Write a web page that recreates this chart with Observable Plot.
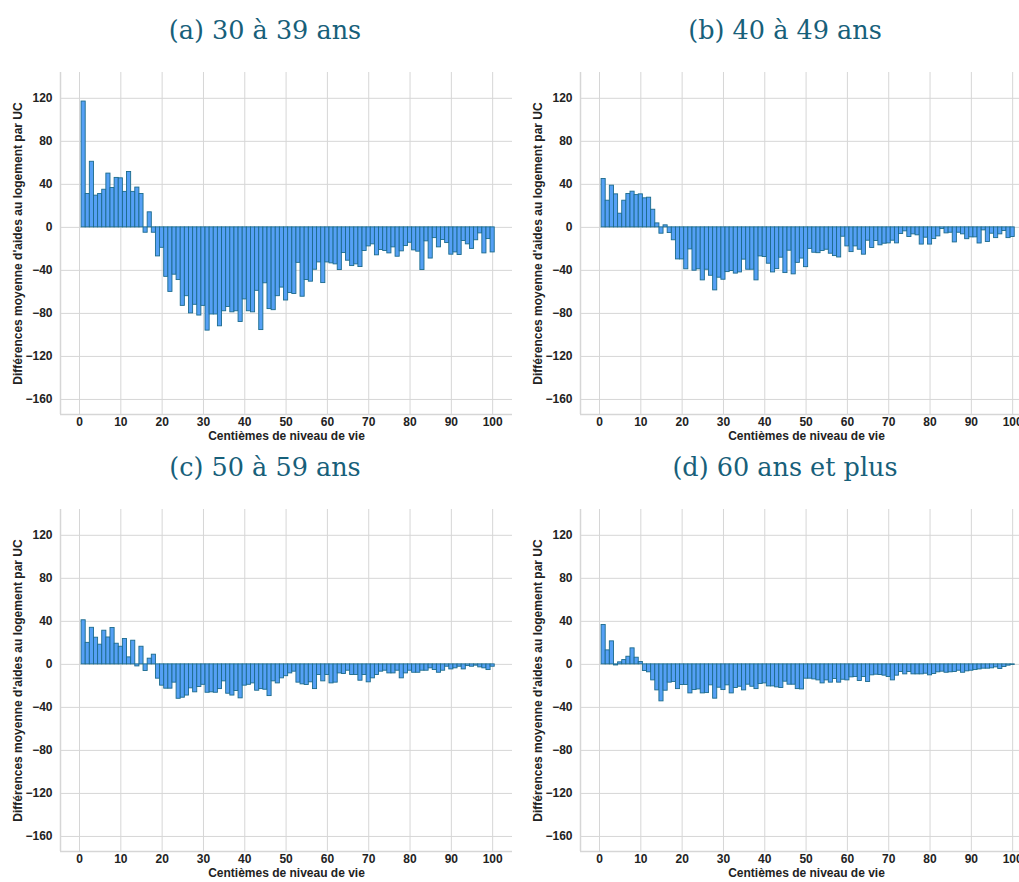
<!DOCTYPE html>
<html><head><meta charset="utf-8">
<script src="https://cdn.jsdelivr.net/npm/d3@7"></script>
<script src="https://cdn.jsdelivr.net/npm/@observablehq/plot@0.6"></script>
<style>
html,body{margin:0;padding:0;background:#fff;overflow:hidden;width:1019px;height:882px;position:relative;}
.panel{position:absolute;width:520px;height:437px;}
.title{position:absolute;left:0;width:530px;top:15px;height:30px;line-height:30px;text-align:center;font-family:"DejaVu Serif",serif;font-size:25.5px;color:#17607a;white-space:nowrap;}
.chart{position:absolute;left:0;top:60px;}
</style></head><body>
<script>
const centiles = Array.from({length: 100}, (_, i) => i + 1);
const xTicks = [0, 10, 20, 30, 40, 50, 60, 70, 80, 90, 100];
const yTicks = [-160, -120, -80, -40, 0, 40, 80, 120];
const titles = ["(a) 30 à 39 ans", "(b) 40 à 49 ans", "(c) 50 à 59 ans", "(d) 60 ans et plus"];
const xLabel = "Centièmes de niveau de vie";
const yLabel = "Différences moyenne d'aides au logement par UC";

const age30_39 = [117, 31, 61, 29.5, 31, 35, 50, 36.6, 46, 45.6, 33, 51.5, 33, 37, 31,
  -5, 14, -5, -27, -19, -46, -60, -44, -49, -73, -64, -80, -72, -82, -73,
  -96, -81, -81, -92, -78, -74, -79, -78, -88, -67, -78, -79, -59, -95.5, -52,
  -76, -77, -64, -56, -68,
  -61, -62, -33, -64.5, -49, -50.5, -39.4, -32.6, -51.8, -32.6,
  -33.5, -34.4, -39.7, -23.9, -31, -36, -34.4, -36.9, -22, -17.7,
  -15.8, -26, -21, -22, -24.2, -18.6, -27.3, -22.3, -17.4, -14.3,
  -21.4, -22.6, -39.7, -13, -29, -10, -18.6, -11.8, -14.6, -25.4,
  -23.3, -25.7, -12.7, -15.8, -20, -12, -5.6, -24.2, -10.9, -23.3];

const age40_49 = [45, 24.8, 38.8, 30.7, 12.7, 24.8, 31, 33.2, 30, 30.7,
  27, 27.6, 16.4, 3.7, -5.9, 1.9, -5.3, -12, -29.8, -29.8,
  -39, -20.5, -40.3, -39, -49.3, -39.4, -45, -58.6, -46.8, -48.7,
  -41.6, -40.6, -43, -41.9, -30, -39.4, -39.4, -49.3, -27, -27.6,
  -33.8, -41.9, -38.8, -28.2, -42.5, -21.7, -43.7, -33, -29, -37,
  -20, -23.6, -24, -22, -20.8, -24.5, -26.7, -28, -8.7, -17.7,
  -23, -17.7, -20.8, -25.4, -12.4, -19.2, -12.7, -16.7, -15.2, -14.9,
  -12.4, -14.9, -6.2, -3.7, -9, -6.5, -7.4, -16, -9.6, -16,
  -10.9, -8.4, -1.6, -5.6, -5, -14, -5, -6.5, -11, -9.3,
  -9.3, -15, -2.8, -13.6, -5.9, -10, -6.5, -3.4, -10, -9];

const age50_59 = [41, 20, 34, 24.8, 18.3, 31.3, 25, 33.8, 19.2, 16.4,
  23.6, 6.5, 22, -1.9, 16.4, -6.2, 5.3, 9, -13.3, -19.8,
  -22.6, -22.6, -17, -32, -31, -29, -22.3, -26, -21, -19,
  -26.4, -26, -26.4, -23, -15.8, -27.3, -29, -24.8, -31.6, -19.8,
  -19, -17.7, -24.5, -23, -23.6, -29.5, -15.8, -17.7, -13, -11,
  -8.4, -6.8, -17, -18.6, -19.2, -16.7, -23, -9.9, -15.8, -9.9,
  -17.7, -17, -8.4, -9, -5.9, -9.9, -9.9, -15.2, -9.9, -16.7,
  -13, -9.9, -6.8, -5.9, -8.4, -8.4, -5.9, -13, -8.4, -5.9,
  -7.8, -7.8, -5.9, -5.9, -3.7, -5.3, -7.8, -5.9, -2.2, -4.7,
  -3.7, -2.2, -4.7, -1.6, -2.2, -1.2, -2.8, -3.7, -5.3, -2.2];

const age60plus = [36.6, 13, 21.4, -1, 1.9, 4, 7.1, 14.9, 6.2, 2.2,
  -6.2, -7.4, -14.9, -24.2, -34.4, -24.5, -17, -16.4, -23, -19.2,
  -19.2, -27, -23.9, -23.3, -27, -26.7, -19.5, -31.9, -21.7, -23.9,
  -19.5, -27, -22, -20.8, -24.2, -18.9, -20.8, -23, -18.3, -17.7,
  -20.5, -20.5, -21.4, -22, -16.1, -18.9, -18.9, -23, -23.3, -13.3,
  -13.3, -14, -14.9, -17.7, -14.9, -17, -13.6, -17, -14.3, -14.9,
  -12.1, -11.8, -15.5, -11.8, -16.4, -10.2, -9.6, -9.9, -10.5, -11.8,
  -14.9, -10.5, -7.1, -9.3, -7.1, -9.3, -9.3, -9.3, -8.7, -10.2,
  -9, -7.4, -6.8, -7.8, -7.4, -7.1, -5.9, -7.8, -6.5, -5.9,
  -5.3, -4.7, -4, -4, -3.7, -2.8, -4.3, -2.5, -1.2, -0.6];

const series = [age30_39, age40_49, age50_59, age60plus];
const positions = [[0, 0], [520, 0], [0, 437], [520, 437]];

const xDomain = [-4.6, 104.8];
const yDomain = [-174, 144];
const gridColor = "#d6d6d6";
const fmt = d3.format("d");
const fs = 12;

series.forEach((vals, k) => {
  const data = centiles.map((c, i) => ({c, v: vals[i]}));
  const panel = document.createElement("div");
  panel.className = "panel";
  panel.style.left = positions[k][0] + "px";
  panel.style.top = positions[k][1] + "px";
  const t = document.createElement("div");
  t.className = "title";
  t.textContent = titles[k];
  panel.appendChild(t);
  const chart = Plot.plot({
    width: 520, height: 385,
    marginLeft: 60, marginRight: 8, marginTop: 12, marginBottom: 31,
    style: {fontFamily: "'Liberation Sans', Arial, sans-serif", fontSize: fs + "px", fontWeight: "bold", color: "#222", background: "transparent", overflow: "visible"},
    x: {domain: xDomain},
    y: {domain: yDomain},
    marks: [
      Plot.gridX(xTicks, {stroke: gridColor, strokeOpacity: 1, strokeWidth: 1}),
      Plot.gridY(yTicks, {stroke: gridColor, strokeOpacity: 1, strokeWidth: 1}),
      Plot.ruleX([xDomain[0]], {stroke: gridColor, strokeWidth: 1.5}),
      Plot.ruleY([yDomain[0]], {stroke: gridColor, strokeWidth: 1.5}),
      Plot.rectY(data, {x1: d => d.c - 0.5, x2: d => d.c + 0.5, y1: 0, y2: "v", fill: "#55a0f5", stroke: "#1b6b8c", strokeWidth: 0.9}),
      Plot.axisX(xTicks, {tickSize: 0, tickPadding: 3, label: null, tickFormat: fmt, fontSize: fs, fontWeight: "bold", fill: "#222"}),
      Plot.axisY(yTicks, {tickSize: 0, tickPadding: 8, label: null, tickFormat: fmt, fontSize: fs, fontWeight: "bold", fill: "#222"}),
      Plot.text([xLabel], {frameAnchor: "bottom", dy: 25, text: d => d, textAnchor: "middle", fontSize: fs, fontWeight: "bold", fill: "#222"}),
      Plot.text([yLabel], {frameAnchor: "left", dx: -42, rotate: -90, text: d => d, textAnchor: "middle", fontSize: fs, fontWeight: "bold", fill: "#222"})
    ]
  });
  chart.classList.add("chart");
  panel.appendChild(chart);
  document.body.appendChild(panel);
});
</script>
</body></html>
